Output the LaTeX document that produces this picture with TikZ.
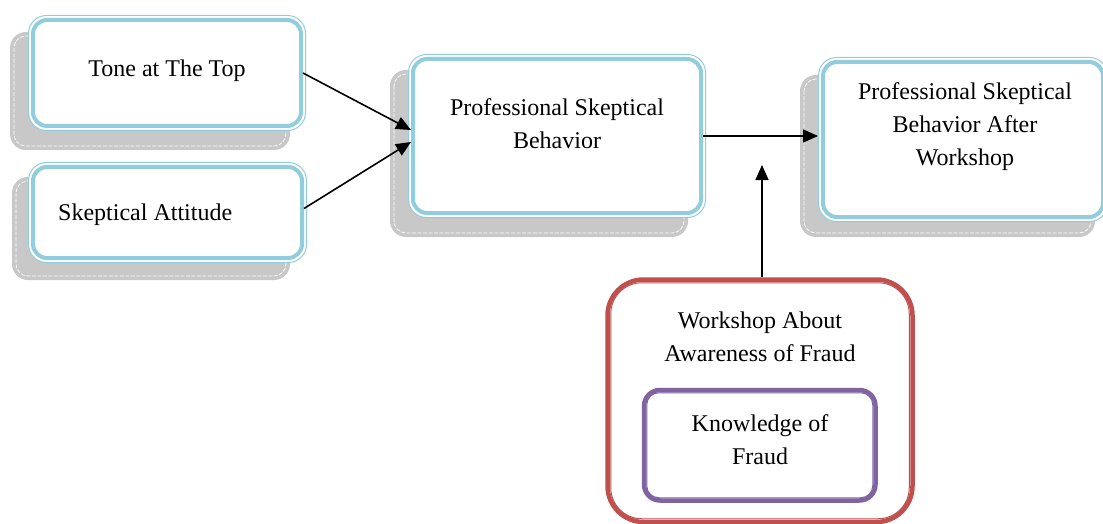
\documentclass[tikz,border=0pt]{standalone}
\usepackage{fontspec}
\setmainfont{Liberation Serif}
\usetikzlibrary{arrows.meta}
\definecolor{skyb}{RGB}{146,205,221}
\definecolor{redb}{RGB}{192,80,77}
\definecolor{purb}{RGB}{128,100,162}
\definecolor{shad}{RGB}{200,200,200}
\tikzset{
  boxbase/.style={rectangle, inner sep=0pt, fill=white},
  bluebox/.style={boxbase, draw=skyb, line width=4pt, rounded corners=14pt},
  redbox/.style={boxbase, draw=redb, line width=4.5pt, rounded corners=36pt},
  purbox/.style={boxbase, draw=purb, line width=4.5pt, rounded corners=16pt},
  bluethin/.style={draw=skyb, line width=1pt, fill=white, rounded corners=18pt},
  redthin/.style={draw=redb, line width=1pt, rounded corners=31pt},
  purthin/.style={draw=purb, line width=1pt, rounded corners=12pt},
  shadowbox/.style={fill=shad, rounded corners=16pt},
  shadowedge/.style={draw=white, line width=0.7pt, dash pattern=on 4pt off 1.5pt, rounded corners=12pt},
  lbl/.style={font=\fontsize{24}{33}\selectfont, align=center, inner sep=0pt},
  arr/.style={line width=1.6pt, -{Triangle[length=15pt,width=13pt]}},
}
\begin{document}
\begin{tikzpicture}[x=1pt,y=-1pt]
\useasboundingbox[fill=white] (0,0) rectangle (1103,524);
% shadows
\foreach \a/\b/\c/\d in {10/32/290/150, 12/177/290/280, 390/70/688/237, 800/75/1095/237}{
  \fill[shadowbox] (\a,\b) rectangle (\c,\d);
  \draw[shadowedge] (\a+4,\b+4) rectangle (\c-4,\d-4);
}
% thin outer lines of the blue boxes
\path[bluethin] (28.5,15.5) rectangle (305.5,130.5);
\path[bluethin] (28.5,162.5) rectangle (306.5,262.5);
\path[bluethin] (408.5,54.5) rectangle (705.5,217.5);
\path[bluethin] (818.5,57.5) rectangle (1107.5,221.5);
% boxes
\node[bluebox, minimum width=268pt, minimum height=106pt] (tone) at (167,73) {};
\node[bluebox, minimum width=269pt, minimum height=91pt] (skept) at (167.5,212.5) {};
\node[bluebox, minimum width=288pt, minimum height=154pt] (psb) at (557,136) {};
\node[bluebox, minimum width=280pt, minimum height=155pt] (psbaw) at (963,139.5) {};
\node[redbox, minimum width=305pt, minimum height=242.5pt] (work) at (760,400.75) {};
\draw[redthin] ([shift={(5.5pt,-5.5pt)}]work.north west) rectangle ([shift={(-5.5pt,5.5pt)}]work.south east);
\node[purbox, minimum width=231.5pt, minimum height=110.5pt] (know) at (759.75,445.25) {};
\draw[purthin] ([shift={(5pt,-5pt)}]know.north west) rectangle ([shift={(-5pt,5pt)}]know.south east);
% labels
\node[lbl] (tonet) at (167,71) {Tone at The Top};
\node[lbl, anchor=west] (skeptt) at (58,215) {Skeptical Attitude};
\node[lbl] (psbt) at (557,124) {Professional Skeptical\\Behavior};
\node[lbl] (psbawt) at (965,127) {Professional Skeptical\\Behavior After\\Workshop};
\node[lbl] (workt) at (760,337) {Workshop About\\Awareness of Fraud};
\node[lbl] (knowt) at (760,440) {Knowledge of\\Fraud};
% connectors
\draw[arr] (tone.east) -- ([yshift=6pt]psb.west);
\draw[arr] ([yshift=4pt]skept.east) -- ([yshift=-6pt]psb.west);
\draw[arr, shorten >=3pt] (psb.east) -- (psb.east -| psbaw.west);
\coordinate (tipv) at (762,165);
\draw[arr] ([xshift=2pt]work.north) -- (tipv);
\end{tikzpicture}
\end{document}
